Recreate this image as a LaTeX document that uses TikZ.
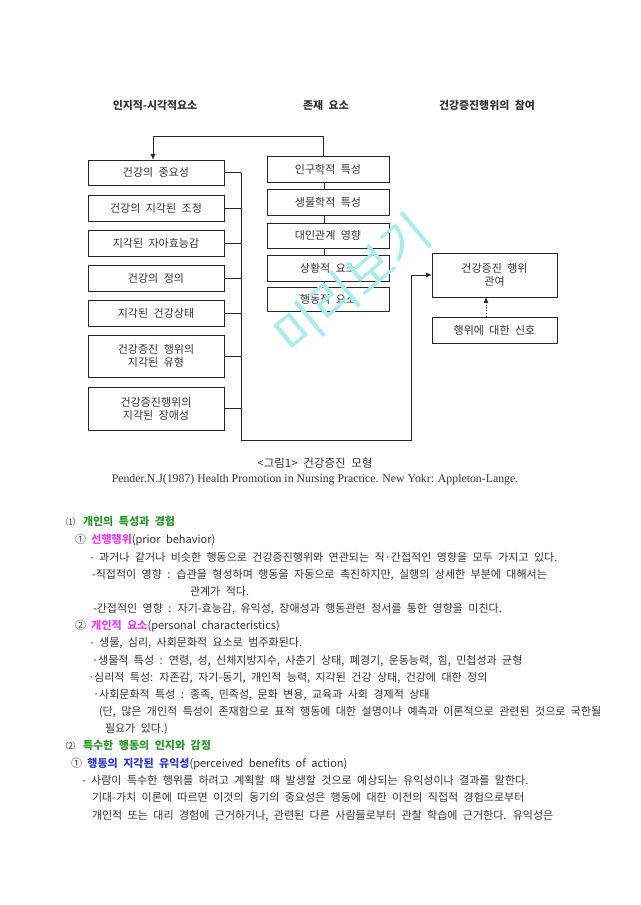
\documentclass[tikz,border=0pt]{standalone}
\usepackage{fontspec}
\setmainfont{Noto Sans CJK KR}[WordSpace=2.2]
\newfontfamily\serifen{Liberation Serif}
\usetikzlibrary{arrows.meta}
\definecolor{txt}{HTML}{333333}
\definecolor{hdgreen}{HTML}{2A962A}
\definecolor{hdmag}{HTML}{F03CF0}
\definecolor{hdblue}{HTML}{2E3ACC}
\definecolor{wm}{HTML}{A8ECEE}
\begin{document}
\begin{tikzpicture}[x=1pt,y=-1pt,
  every node/.style={inner sep=0pt,outer sep=0pt,text=txt},
  boxnode/.style={draw=black!85,line width=0.9pt,align=center,
     font=\fontsize{11}{13}\selectfont},
  lbox/.style={boxnode,minimum width=136pt},
  mbox/.style={boxnode,minimum width=122pt},
  rbox/.style={boxnode,minimum width=125pt},
  wire/.style={draw=black!85,line width=0.9pt},
  arr/.style={wire,-{Latex[length=6pt,width=5pt]}},
  hdr/.style={font=\fontsize{10.9}{12}\selectfont\bfseries},
  body/.style={anchor=base west,font=\fontsize{11}{12}\selectfont},
]
\useasboundingbox (0,0) rectangle (640,905);

% headers
\node[hdr] (h1) at (155,105) {인지적-시각적요소};
\node[hdr] (h2) at (326,105) {존재 요소};
\node[hdr] (h3) at (487,105) {건강증진행위의 참여};

% left column
\node[lbox,minimum height=25pt] (b1) at (156,172.5) {건강의 중요성};
\node[lbox,minimum height=26pt] (b2) at (156,208) {건강의 지각된 조정};
\node[lbox,minimum height=26pt] (b3) at (156,243) {지각된 자아효능감};
\node[lbox,minimum height=26pt] (b4) at (156,278) {건강의 정의};
\node[lbox,minimum height=26pt] (b5) at (156,313) {지각된 건강상태};
\node[lbox,minimum height=42pt] (b6) at (156,356) {건강증진 행위의\\지각된 유형};
\node[lbox,minimum height=43pt] (b7) at (156,408.5) {건강증진행위의\\지각된 장애성};

% middle column
\node[mbox,minimum height=26pt] (m1) at (328,169) {인구학적 특성};
\node[mbox,minimum height=26pt] (m2) at (328,202) {생물학적 특성};
\node[mbox,minimum height=25pt] (m3) at (328,235.5) {대인관계 영향};
\node[mbox,minimum height=26pt] (m4) at (328,268) {상황적 요소};
\node[mbox,minimum height=24pt] (m5) at (328,299) {행동적 요소};

% right column
\node[rbox,minimum height=44pt] (r1) at (494.5,275) {건강증진 행위\\관여};
\node[rbox,minimum height=26pt] (r2) at (494.5,330) {행위에 대한 신호};

% connectors
\coordinate (tl) at (153,136);
\coordinate (tr) at (323,136);
\draw[arr] (m1.north -| tr) -- (tr) -- (tl) -- (b1.north -| tl);

\coordinate (mx) at (324,0);
\draw[wire] (m1.south -| mx) -- (m2.north -| mx);
\draw[wire] (m2.south -| mx) -- (m3.north -| mx);
\draw[wire] (m3.south -| mx) -- (m4.north -| mx);
\draw[wire] (m4.south -| mx) -- (m5.north -| mx);

\coordinate (bl) at (241,440);
\coordinate (br) at (411,440);
\draw[wire] (b1.east) -- (b1.east -| bl);
\draw[wire] (b2.east) -- (b2.east -| bl);
\draw[wire] (b3.east) -- (b3.east -| bl);
\draw[wire] (b4.east) -- (b4.east -| bl);
\draw[wire] (b5.east) -- (b5.east -| bl);
\draw[wire] (b6.east) -- (b6.east -| bl);
\draw[wire] (b7.east) -- (b7.east -| bl);
\draw[arr] (b1.east -| bl) -- (bl) -- (br) -- (br |- r1.west) -- (r1.west);

\coordinate (dx) at (486,0);
\draw[wire,dotted,-{Latex[length=6pt,width=5pt]}] (r2.north -| dx) -- (r1.south -| dx);

% watermark
\node[rotate=40,text=wm,font=\fontsize{50}{50}\selectfont] (wmk) at (352,284) {미리보기};

% caption
\node[font=\fontsize{11.5}{12}\selectfont] (cap1) at (315,463) {<그림1> 건강증진 모형};
\node[font=\fontsize{11.8}{12}\serifen] (cap2) at (315,480) {Pender.N.J(1987) Health Promotion in Nursing Practice. New Yokr: Appleton-Lange.};

% body
\node[body,font=\fontsize{9}{10}\selectfont] (t1a) at (66,525.5) {⑴};
\node[body,text=hdgreen,font=\fontsize{11}{12}\selectfont\bfseries] (t1) at (83,525.5) {개인의 특성과 경험};
\node[body] (t2) at (75,543.5) {① \textcolor{hdmag}{\bfseries 선행행위}(prior behavior)};
\node[body] (t3) at (90,561) {- 과거나 같거나 비슷한 행동으로 건강증진행위와 연관되는 직·간접적인 영향을 모두 가지고 있다.};
\node[body] (t4) at (92,578.5) {-직접적이 영향 : 습관을 형성하며 행동을 자동으로 촉진하지만, 실행의 상세한 부분에 대해서는};
\node[body] (t5) at (190,595.5) {관계가 적다.};
\node[body] (t6) at (93,612) {-간접적인 영향 : 자기-효능감, 유익성, 장애성과 행동관련 정서를 통한 영향을 미친다.};
\node[body] (t7) at (75,629) {② \textcolor{hdmag}{\bfseries 개인적 요소}(personal characteristics)};
\node[body] (t8) at (90,646.5) {- 생물, 심리, 사회문화적 요소로 범주화된다.};
\node[body] (t9) at (92,664.5) {·생물적 특성 : 연령, 성, 신체지방지수, 사춘기 상태, 폐경기, 운동능력, 힘, 민첩성과 균형};
\node[body] (t10) at (88,681.5) {·심리적 특성: 자존감, 자기-동기, 개인적 능력, 지각된 건강 상태, 건강에 대한 정의};
\node[body] (t11) at (93,698) {·사회문화적 특성 : 종족, 민족성, 문화 변용, 교육과 사회 경제적 상태};
\node[body] (t12) at (99,715.5) {(단, 많은 개인적 특성이 존재함으로 표적 행동에 대한 설명이나 예측과 이론적으로 관련된 것으로 국한될};
\node[body] (t13) at (105,732.5) {필요가 있다.)};
\node[body,font=\fontsize{9}{10}\selectfont] (t14a) at (66,749.5) {⑵};
\node[body,text=hdgreen,font=\fontsize{11}{12}\selectfont\bfseries] (t14) at (83,749.5) {특수한 행동의 인지와 감정};
\node[body] (t15) at (71,767.5) {① \textcolor{hdblue}{\bfseries 행동의 지각된 유익성}(perceived benefits of action)};
\node[body] (t16) at (82,784.5) {- 사람이 특수한 행위를 하려고 계획할 때 발생할 것으로 예상되는 유익성이나 결과를 말한다.};
\node[body] (t17) at (92,801.5) {기대-가치 이론에 따르면 이것의 동기의 중요성은 행동에 대한 이전의 직접적 경험으로부터};
\node[body] (t18) at (92,819.5) {개인적 또는 대리 경험에 근거하거나, 관련된 다른 사람들로부터 관찰 학습에 근거한다. 유익성은};
\end{tikzpicture}
\end{document}
